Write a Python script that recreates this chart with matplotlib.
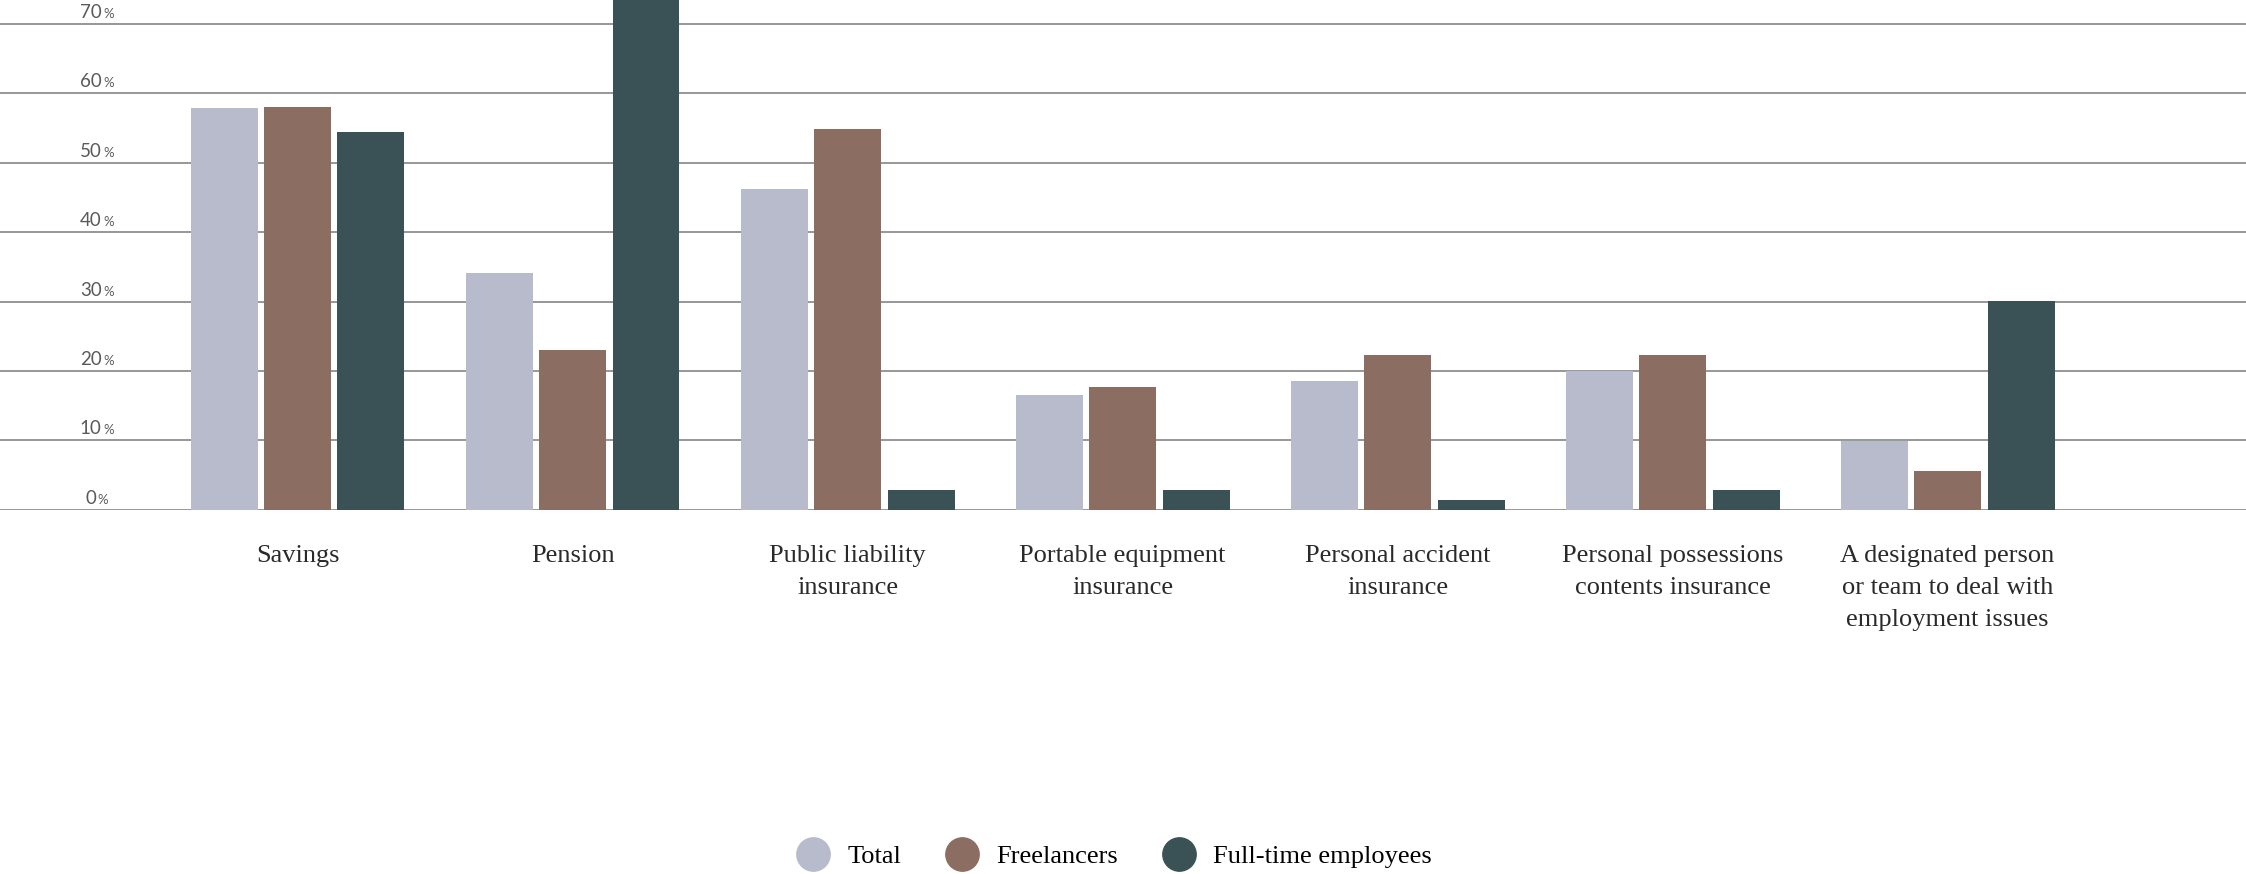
import numpy as np
import matplotlib
matplotlib.use("Agg")
import matplotlib.pyplot as plt
from matplotlib.lines import Line2D
from matplotlib.transforms import blended_transform_factory, offset_copy

categories = [
    "Savings",
    "Pension",
    "Public liability\ninsurance",
    "Portable equipment\ninsurance",
    "Personal accident\ninsurance",
    "Personal possessions\ncontents insurance",
    "A designated person\nor team to deal with\nemployment issues",
]
total = [57.8, 34.1, 46.2, 16.5, 18.6, 20.0, 9.9]
freelancers = [58.0, 23.0, 54.8, 17.7, 22.3, 22.3, 5.6]
full_time = [54.4, 75.0, 2.9, 2.9, 1.4, 2.9, 30.1]
yticks = [0, 10, 20, 30, 40, 50, 60, 70]

series_names = ["Total", "Freelancers", "Full-time employees"]
colors = ["#b8bbcb", "#8c6d61", "#3a5155"]

fig = plt.figure(figsize=(22.46, 8.74), dpi=100)
ax = fig.add_axes([0, 0.4165, 1, 0.5835])

x = np.arange(len(categories))
step = 0.267
width = 0.2436
for i, (vals, col) in enumerate(zip([total, freelancers, full_time], colors)):
    ax.bar(x + (i - 1) * step, vals, width=width, color=col, zorder=3)

ax.set_xlim(-1.082, 7.085)
ax.set_ylim(0, 73.4)

# horizontal rules instead of a y axis
ax.set_yticks(yticks)
ax.yaxis.grid(True, color="#8f8f8f", linewidth=1.3, zorder=0)
ax.tick_params(axis="y", length=0, labelleft=False)
for s in ax.spines.values():
    s.set_visible(False)

# percent labels sit just above each rule, with a smaller % sign
trans = blended_transform_factory(fig.transFigure, ax.transData)
for t in yticks:
    n = len(str(t))
    xr = (96 + 5.5 * (n - 1)) / 2246
    ax.text(xr, t, str(t), transform=offset_copy(trans, fig=fig, y=6, units="dots"),
            ha="right", va="baseline", fontsize=13.5, family="Lato", color="#5a5a5a")
    ax.text(xr + 1.5 / 2246, t, "%", transform=offset_copy(trans, fig=fig, y=6, units="dots"),
            ha="left", va="baseline", fontsize=9.5, family="Lato", color="#5a5a5a")

ax.set_xticks(x)
ax.set_xticklabels(categories, family="Liberation Serif", fontsize=19,
                   color="#2a2a2a", linespacing=1.6)
ax.tick_params(axis="x", length=0, pad=25)

handles = [Line2D([], [], marker="o", linestyle="none", markersize=24,
                  markerfacecolor=c, markeredgecolor=c) for c in colors]
fig.legend(handles, series_names, loc="center", bbox_to_anchor=(0.494, 0.02),
           ncol=3, frameon=False, handletextpad=0.3, columnspacing=1.3,
           prop={"family": "Liberation Serif", "size": 19})

fig.savefig("out.png", dpi=100, facecolor="white")
